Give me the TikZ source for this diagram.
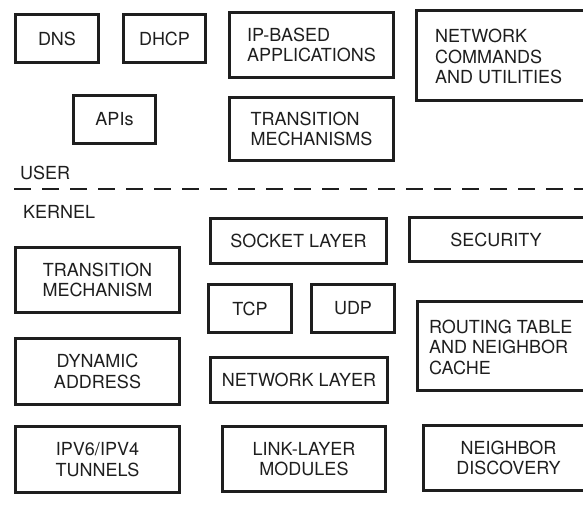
\documentclass[tikz,border=0pt]{standalone}
\usepackage{fontspec}
\setmainfont{TeX Gyre Heros}
\definecolor{ink}{HTML}{1E1E1E}
\tikzset{
  box/.style={draw=ink, line width=2.8pt, inner sep=0pt, text=ink,
              font=\fontsize{18}{20.5}\selectfont, align=center},
  boxl/.style={box, align=left},
  lbl/.style={inner sep=0pt, text=ink, font=\fontsize{18}{20.5}\selectfont},
  sep/.style={draw=ink, line width=1.8pt, dash pattern=on 17pt off 11pt}
}
\begin{document}
\begin{tikzpicture}[x=1pt,y=-1pt]
\useasboundingbox (0,0) rectangle (583,518);
\clip (0,0) rectangle (583,518);

% user space
\node[box, minimum width=83pt, minimum height=48pt] (dns) at (57,38.5) {DNS};
\node[box, minimum width=82pt, minimum height=48pt] (dhcp) at (164.5,38.5) {DHCP};
\node[boxl, minimum width=164pt, minimum height=65pt] (ipapps) at (311.5,45) {IP-BASED\\APPLICATIONS};
\node[box, minimum width=183pt, minimum height=90pt] (netcmd) at (508,55.5) {};
\node[lbl, anchor=west, align=left] (netcmdtxt) at (435,56.5) {NETWORK\\COMMANDS\\AND UTILITIES};
\node[box, minimum width=82pt, minimum height=48pt] (apis) at (114.5,119.5) {APIs};
\node[boxl, minimum width=164pt, minimum height=63pt] (transuser) at (311.5,129) {TRANSITION\\MECHANISMS};

% user / kernel boundary
\node[lbl, anchor=west] (user) at (20,172.5) {USER};
\coordinate (sepL) at (14,189);
\coordinate (sepR) at (583,189);
\draw[sep] (sepL) -- (sepR);
\node[lbl, anchor=west] (kernel) at (23,211.5) {KERNEL};

% kernel space
\node[box, minimum width=164pt, minimum height=65pt] (transkern) at (97.5,280) {TRANSITION\\MECHANISM};
\node[box, minimum width=176pt, minimum height=45pt] (socket) at (298.5,241) {SOCKET LAYER};
\node[box, minimum width=190.5pt, minimum height=44pt] (security) at (504.75,239.5) {};
\node[lbl] (securitytxt) at (496,240) {SECURITY};
\node[box, minimum width=83pt, minimum height=48pt] (tcp) at (250,308.5) {TCP};
\node[box, minimum width=83pt, minimum height=48pt] (udp) at (353,308.5) {UDP};
\node[box, minimum width=182.5pt, minimum height=89pt] (routing) at (508.75,346) {};
\node[lbl, anchor=west, align=left] (routingtxt) at (429,347) {ROUTING TABLE\\AND NEIGHBOR\\CACHE};
\node[box, minimum width=164pt, minimum height=66pt] (dynaddr) at (97.5,371.5) {DYNAMIC\\ADDRESS};
\node[box, minimum width=177pt, minimum height=45pt] (netlayer) at (299,380) {NETWORK LAYER};
\node[box, minimum width=164pt, minimum height=66pt] (tunnels) at (97.5,459.5) {IPV6/IPV4\\TUNNELS};
\node[box, minimum width=163pt, minimum height=65pt] (linklayer) at (304,459) {LINK-LAYER\\MODULES};
\node[box, minimum width=176.5pt, minimum height=65pt] (ndisc) at (511.75,458) {};
\node[lbl, align=center] (ndisctxt) at (508.5,458) {NEIGHBOR\\DISCOVERY};
\end{tikzpicture}
\end{document}
